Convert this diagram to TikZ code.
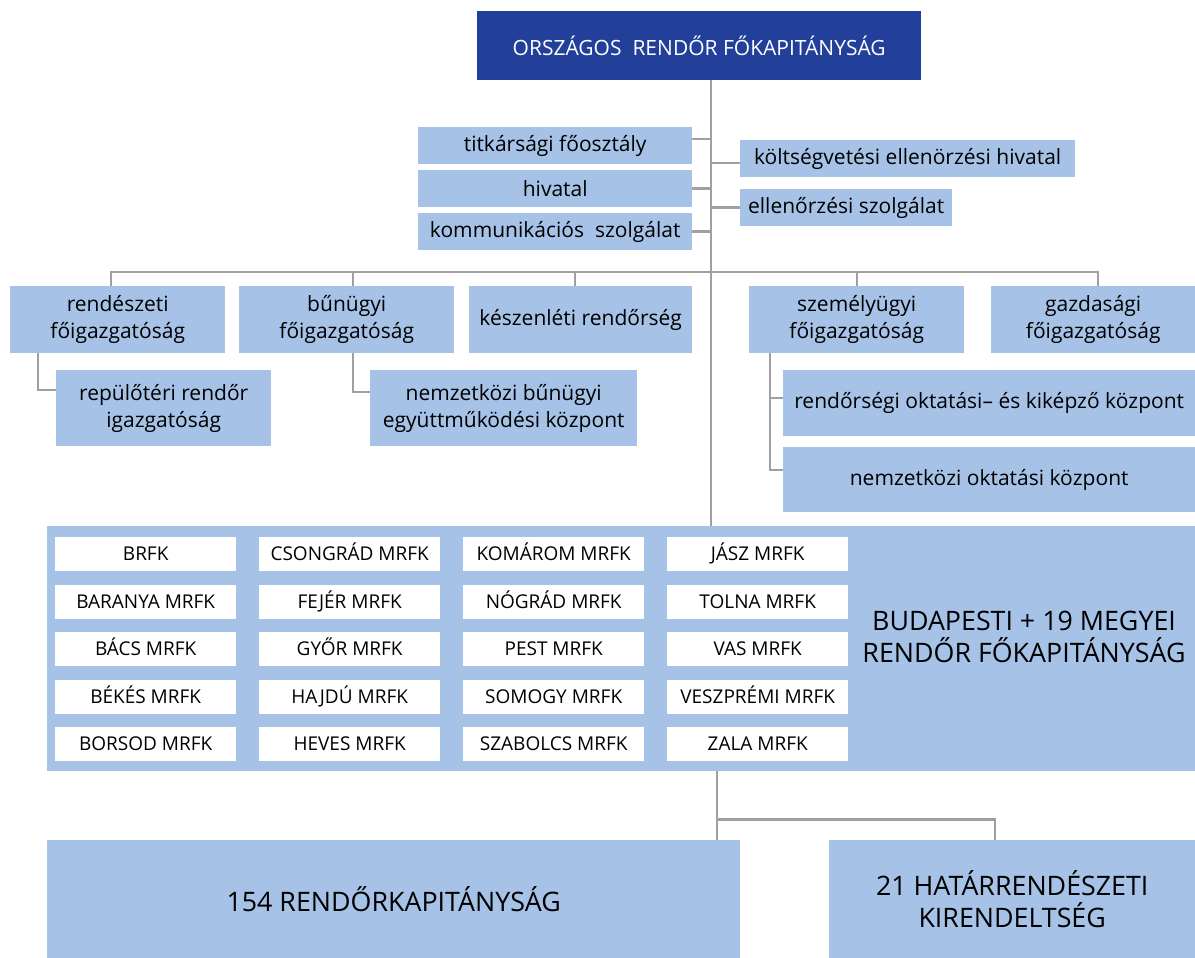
\documentclass[tikz,border=0pt]{standalone}
\usepackage{fontspec}
\setmainfont{Open Sans}
\usepackage{tikz}

\definecolor{topblue}{RGB}{34,64,154}
\definecolor{boxblue}{RGB}{166,194,230}
\definecolor{linegray}{RGB}{160,160,160}

\tikzset{
  unit/.style={fill=boxblue, text=black, align=center, inner sep=0pt, anchor=north west,
               font=\fontsize{21}{27}\selectfont},
  county/.style={fill=white, text=black, inner sep=0pt, anchor=north west,
                 minimum width=181, minimum height=34, text height=13.5, text depth=0,
                 font=\fontsize{19}{22}\selectfont},
  bigunit/.style={unit, font=\fontsize{26.8}{32}\selectfont},
  link/.style={draw=linegray, line width=2.5}
}

\begin{document}
\begin{tikzpicture}[x=1pt,y=-1pt]
  \useasboundingbox (0,0) rectangle (1195,958);

  % Head
  \node[unit, fill=topblue, text=white, minimum width=444, minimum height=69]
    (orfk) at (477,11) {ORSZÁGOS\ \ RENDŐR FŐKAPITÁNYSÁG};

  % Staff units
  \node[unit, minimum width=274, minimum height=37] (titkar) at (418,127) {titkársági főosztály};
  \node[unit, minimum width=274, minimum height=37] (hivatal) at (418,170) {hivatal};
  \node[unit, minimum width=274, minimum height=37] (kommun) at (418,213) {kommunikációs\ \ szolgálat};
  \node[unit, minimum width=335, minimum height=37] (koltseg) at (740,140) {költségvetési ellenörzési hivatal};
  \node[unit, minimum width=212, minimum height=37] (ellenor) at (740,189) {ellenőrzési szolgálat};

  % Directorates
  \node[unit, minimum width=215, minimum height=67] (rendeszet) at (10,286) {rendészeti\\főigazgatóság};
  \node[unit, minimum width=215, minimum height=67] (bunugyi) at (239,286) {bűnügyi\\főigazgatóság};
  \node[unit, minimum width=223, minimum height=67] (keszenlet) at (469,286) {készenléti rendőrség};
  \node[unit, minimum width=215, minimum height=67] (szemely) at (749,286) {személyügyi\\főigazgatóság};
  \node[unit, minimum width=204, minimum height=67] (gazdasag) at (991,286) {gazdasági\\főigazgatóság};

  % Sub units
  \node[unit, minimum width=215, minimum height=76] (repter) at (56,370) {repülőtéri rendőr\\igazgatóság};
  \node[unit, minimum width=267, minimum height=76] (nembun) at (370,370) {nemzetközi bűnügyi\\együttműködési központ};
  \node[unit, minimum width=412, minimum height=66] (oktatas) at (783,370) {rendőrségi oktatási– és kiképző központ};
  \node[unit, minimum width=412, minimum height=65] (nemokt) at (783,447) {nemzetközi oktatási központ};

  % County headquarters
  \node[unit, minimum width=1148, minimum height=245] (megyei) at (47,526) {};
  \node[bigunit, fill=none, anchor=center] (megyeilbl) at (1024,637)
    {BUDAPESTI + 19 MEGYEI\\RENDŐR FŐKAPITÁNYSÁG};
  \foreach \c/\r/\txt in {0/0/BRFK, 0/1/BARANYA MRFK, 0/2/BÁCS MRFK, 0/3/BÉKÉS MRFK, 0/4/BORSOD MRFK,
                          1/0/CSONGRÁD MRFK, 1/1/FEJÉR MRFK, 1/2/GYŐR MRFK, 1/3/HAJDÚ MRFK, 1/4/HEVES MRFK,
                          2/0/KOMÁROM MRFK, 2/1/NÓGRÁD MRFK, 2/2/PEST MRFK, 2/3/SOMOGY MRFK, 2/4/SZABOLCS MRFK,
                          3/0/JÁSZ MRFK, 3/1/TOLNA MRFK, 3/2/VAS MRFK, 3/3/VESZPRÉMI MRFK, 3/4/ZALA MRFK}
    \node[county] (m\c\r) at (55+204*\c,537+47.5*\r) {\txt};

  % Local units
  \node[bigunit, minimum width=693, minimum height=118] (rk) at (47,840) {154 RENDŐRKAPITÁNYSÁG};
  \node[bigunit, minimum width=366, minimum height=118] (hatar) at (829,840) {21 HATÁRRENDÉSZETI\\KIRENDELTSÉG};

  % Trunk
  \coordinate (top) at ([xshift=12]orfk.south);
  \draw[link] (top) -- (top |- megyei.north);

  % Staff links
  \draw[link] ([yshift=6.5]titkar.east) -- ([yshift=6.5]titkar.east -| top);
  \draw[link] (hivatal.east) -- (hivatal.east -| top);
  \draw[link] (kommun.east) -- (kommun.east -| top);
  \draw[link] ([yshift=-4.5]koltseg.west) -- ([yshift=-4.5]koltseg.west -| top);
  \draw[link] (ellenor.west) -- (ellenor.west -| top);

  % Directorate bus
  \draw[link] ([xshift=-6.5]rendeszet.north) -- ++(0,-14) -| ([xshift=5]gazdasag.north);
  \foreach \n/\s in {bunugyi/6.5, keszenlet/-5.5, szemely/0.5}
    \draw[link] ([xshift=\s]\n.north) -- ++(0,-14);

  % Sub unit links
  \draw[link] ([xshift=28]rendeszet.south west) |- ([yshift=18]repter.west);
  \draw[link] ([xshift=114]bunugyi.south west) |- ([yshift=16]nembun.west);
  \draw[link] ([xshift=21]szemely.south west) |- ([yshift=5]oktatas.west);
  \draw[link] ([xshift=21]szemely.south west) |- ([yshift=9.5]nemokt.west);

  % Bottom links
  \coordinate (low) at ([xshift=96]megyei.south);
  \draw[link] (low) -- (low |- rk.north);
  \draw[link] ([yshift=-48]low) -| ([xshift=-17]hatar.north);
\end{tikzpicture}
\end{document}
